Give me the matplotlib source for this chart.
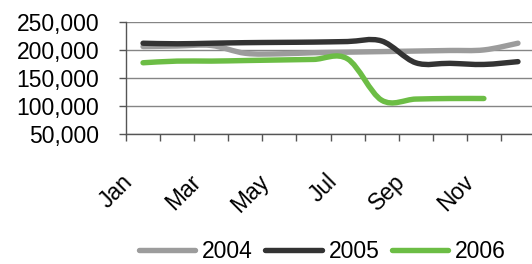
import matplotlib
matplotlib.use("Agg")
from matplotlib import pyplot as plt
from matplotlib.path import Path
from matplotlib.patches import PathPatch
from matplotlib.lines import Line2D
from matplotlib.ticker import FuncFormatter
import matplotlib.transforms as mtransforms
import numpy as np

params = {
    "font.family": ["Liberation Sans", "DejaVu Sans"],
    "font.size": 16.5,
    "axes.linewidth": 1.0,
}
matplotlib.rcParams.update(params)

# monthly values
months = ["Jan", "Feb", "Mar", "Apr", "May", "Jun",
          "Jul", "Aug", "Sep", "Oct", "Nov", "Dec"]
years = ["2004", "2005", "2006"]
sales_2004 = [206000, 207000, 208000, 194000, 193000, 195000,
              196000, 197000, 198000, 199000, 200000, 212000]
sales_2005 = [212000, 211000, 212000, 213000, 213500, 214000,
              215000, 216000, 177000, 176000, 174000, 179000]
sales_2006 = [177000, 180000, 180000, 181000, 182000, 183000,
              184000, 110000, 112000, 113000, 113000]
shown_months = ["Jan", "Mar", "May", "Jul", "Sep", "Nov"]

colors = ["#9c9c9c", "#333333", "#6cbd45"]
axis_color = "#555555"
grid_color = "#858585"
lw = 3.9


def smooth_path(xs, ys):
    # Excel-style smoothed line: cubic bezier through every point
    pts = np.column_stack([xs, ys]).astype(float)
    n = len(pts)
    verts = [pts[0]]
    codes = [Path.MOVETO]
    for i in range(n - 1):
        p0 = pts[i - 1] if i > 0 else pts[i]
        p1 = pts[i]
        p2 = pts[i + 1]
        p3 = pts[i + 2] if i + 2 < n else pts[i + 1]
        c1 = p1 + (p2 - p0) / 6.0
        c2 = p2 - (p3 - p1) / 6.0
        verts += [c1, c2, p2]
        codes += [Path.CURVE4] * 3
    return Path(verts, codes)


fig = plt.figure(figsize=(5.32, 2.64), dpi=100)
ax = fig.add_axes([126 / 532, 1 - 133.7 / 264, 409 / 532, (133.7 - 22) / 264])

for s, series in enumerate([sales_2004, sales_2005, sales_2006]):
    xs = np.arange(len(series))
    patch = PathPatch(smooth_path(xs, series), fill=False, edgecolor=colors[s],
                      lw=lw, capstyle="round", joinstyle="round", zorder=3)
    ax.add_patch(patch)

ax.set_xlim(-0.5, 11.5)
ax.set_ylim(50000, 250000)
ax.set_yticks(np.arange(50000, 250001, 50000))
ax.yaxis.set_major_formatter(FuncFormatter(lambda v, p: f"{int(v):,}"))
ax.grid(axis="y", color=grid_color, lw=1.0)
ax.set_axisbelow(True)

for side in ["top", "right"]:
    ax.spines[side].set_visible(False)
for side in ["left", "bottom"]:
    ax.spines[side].set_color(axis_color)

# tick marks on category boundaries, labels on every other month
ax.set_xticks(np.arange(-0.5, 12, 1.0))
ax.set_xticklabels([])
label_pos = [months.index(m) for m in shown_months]
ax.set_xticks(label_pos, minor=True)
ax.set_xticklabels(shown_months, minor=True, rotation=45, ha="right",
                   va="center", rotation_mode="anchor")
ax.tick_params(axis="x", which="major", length=5, width=1.0, color=axis_color)
ax.tick_params(axis="x", which="minor", length=0, pad=32)
ax.tick_params(axis="y", length=5, width=1.0, color=axis_color, pad=14.4)

offset = mtransforms.ScaledTranslation(-0.14, 0, fig.dpi_scale_trans)
for lab in ax.xaxis.get_minorticklabels():
    lab.set_transform(lab.get_transform() + offset)

handles = [Line2D([], [], color=c, lw=lw, solid_capstyle="round") for c in colors]
fig.legend(handles, years, loc="center", bbox_to_anchor=(0.606, 0.047),
           ncol=3, frameon=False, handlelength=2.45, handletextpad=0.3,
           columnspacing=0.55, borderpad=0, borderaxespad=0)

plt.savefig("out.png", dpi=100)
